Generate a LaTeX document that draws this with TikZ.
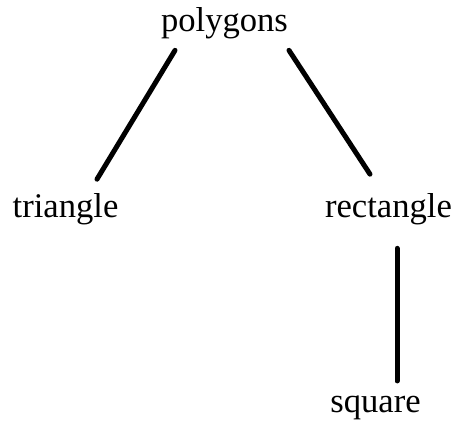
\documentclass[tikz,border=0pt]{standalone}
\usepackage{fontspec}
\setmainfont{Liberation Serif}
\usepackage{tikz}
\usetikzlibrary{arrows,shapes}
\tikzstyle{word}=[inner sep=0pt,anchor=base,font=\fontsize{17.3}{20}\selectfont]
\tikzstyle{tree}=[x=0.5pt,y=-0.5pt]
\tikzstyle{branch}=[line width=2.5pt,line cap=round]

\begin{document}
\begin{tikzpicture}[tree]
\useasboundingbox (0,0) rectangle (456,426);
\node[word] (P) at (224.5,32) {polygons};
\node[word] (T) at (65.5,218) {triangle};
\node[word] (R) at (388.5,218) {rectangle};
\node[word] (S) at (375.5,413) {square};
\draw[branch]([shift={(-49.5,10.5)}]P.south)--([shift={(31.5,-14.4)}]T.north);
\draw[branch]([shift={(64.5,10.5)}]P.south)--([shift={(-18.5,-19.4)}]R.north);
\draw[branch]([shift={(8.5,22.5)}]R.south)--([shift={(21.5,-15)}]S.north);
\end{tikzpicture}
\end{document}
